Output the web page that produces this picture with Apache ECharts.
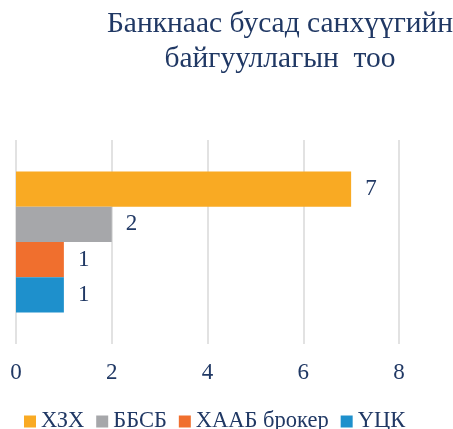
<!DOCTYPE html>
<html>
<head>
<meta charset="utf-8">
<script src="https://cdn.jsdelivr.net/npm/echarts@6/dist/echarts.min.js"></script>
<style>
  html, body { margin: 0; padding: 0; background: #fff; }
  #chart { width: 453px; height: 429px; }
</style>
</head>
<body>
<div id="chart"></div>
<script type="text/javascript">
    // data
    var titleText = 'Банкнаас бусад санхүүгийн\nбайгууллагын  тоо';
    var categories = [''];
    var seriesNames = ['ХЗХ', 'ББСБ', 'ХААБ брокер', 'ҮЦК'];
    var seriesValues = [[7], [2], [1], [1]];
    var seriesColors = ['#F9AA23', '#A6A7AA', '#F06F2E', '#1E90CC'];
    var xTicks = { min: 0, max: 8, interval: 2 };

    var textColor = '#203864';
    var serif = '"Liberation Serif", "DejaVu Serif", serif';

    var myChart = echarts.init(document.getElementById('chart'));

    var series = seriesNames.map(function (name, i) {
        return {
            name: name,
            type: 'bar',
            data: seriesValues[i],
            barGap: 0,
            barCategoryGap: '31%',
            itemStyle: { color: seriesColors[i] },
            label: {
                show: true,
                position: 'right',
                distance: 14,
                color: textColor,
                fontFamily: serif,
                fontSize: 23
            }
        };
    });

    var option = {
        animation: false,
        title: {
            text: titleText,
            left: 275,
            top: 2,
            textAlign: 'center',
            textStyle: {
                color: textColor,
                fontFamily: serif,
                fontWeight: 'normal',
                fontSize: 29.5,
                lineHeight: 35
            }
        },
        legend: {
            data: seriesNames,
            left: 19,
            top: 405,
            icon: 'rect',
            itemWidth: 12,
            itemHeight: 12,
            itemGap: 12,
            textStyle: {
                color: textColor,
                fontFamily: serif,
                fontSize: 22.5
            }
        },
        grid: {
            left: 16,
            right: 54,
            top: 140,
            bottom: 85,
            containLabel: false
        },
        xAxis: {
            type: 'value',
            min: xTicks.min,
            max: xTicks.max,
            interval: xTicks.interval,
            axisLine: { show: false },
            axisTick: { show: false },
            axisLabel: {
                margin: 17,
                color: textColor,
                fontFamily: serif,
                fontSize: 23
            },
            splitLine: { lineStyle: { color: '#D9D9D9', width: 1.5 } }
        },
        yAxis: {
            type: 'category',
            data: categories,
            inverse: true,
            axisLine: { show: false },
            axisTick: { show: false },
            axisLabel: { show: false }
        },
        series: series
    };

    myChart.setOption(option);
</script>
</body>
</html>
